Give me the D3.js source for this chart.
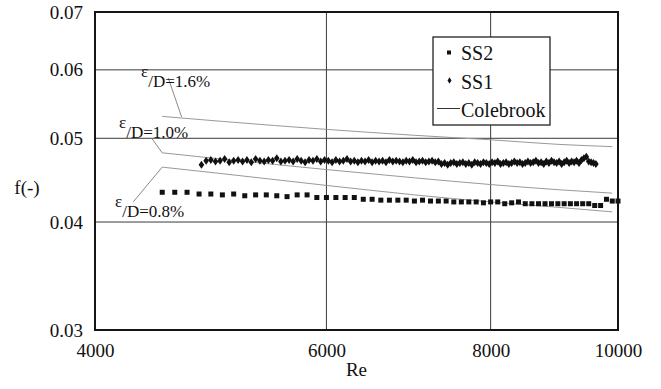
<!DOCTYPE html>
<html>
<head>
<meta charset="utf-8">
<script src="https://cdn.jsdelivr.net/npm/d3@7"></script>
<style>
  body { margin: 0; background: #fff; }
  svg text { fill: #111; }
</style>
</head>
<body>
<div id="chart"></div>
<script>
// SS2 measurements (squares)
const ss2Re = [4500, 4600, 4700, 4800, 4900, 5000, 5100, 5200, 5300, 5400,
  5500, 5600, 5700, 5800, 5900, 6000, 6100, 6200, 6300, 6400,
  6500, 6600, 6700, 6800, 6900, 7000, 7100, 7200, 7300, 7400,
  7500, 7600, 7700, 7800, 7900, 8000, 8100, 8200, 8300, 8400,
  8500, 8600, 8700, 8800, 8900, 9000, 9100, 9200, 9300, 9400,
  9500, 9600, 9700, 9800, 9900, 10000];
const ss2F = [0.0433, 0.0433, 0.0433, 0.0431, 0.0431, 0.0430, 0.0431, 0.0429, 0.0430, 0.0430,
  0.0429, 0.0428, 0.0430, 0.0430, 0.0427, 0.0427, 0.0427, 0.0427, 0.0427, 0.0425,
  0.0425, 0.0424, 0.0424, 0.0424, 0.0424, 0.0423, 0.0424, 0.0423, 0.0423, 0.0423,
  0.0422, 0.0422, 0.0422, 0.0422, 0.0421, 0.0422, 0.0422, 0.0420, 0.0421, 0.0422,
  0.0420, 0.0420, 0.0420, 0.0420, 0.0420, 0.0420, 0.0420, 0.0420, 0.0420, 0.0420,
  0.0420, 0.0418, 0.0418, 0.0425, 0.0423, 0.0423];

// SS1 measurements (diamonds)
const ss1Re = [4820, 4860, 4900, 4940, 4980, 5020, 5060, 5100, 5140, 5180,
  5220, 5260, 5300, 5340, 5380, 5420, 5460, 5500, 5540, 5580,
  5620, 5660, 5700, 5740, 5780, 5820, 5860, 5900, 5940, 5980,
  6020, 6060, 6100, 6140, 6180, 6220, 6260, 6300, 6340, 6380,
  6420, 6460, 6500, 6540, 6580, 6620, 6660, 6700, 6740, 6780,
  6820, 6860, 6900, 6940, 6980, 7020, 7060, 7100, 7140, 7180,
  7220, 7260, 7300, 7340, 7380, 7420, 7460, 7500, 7540, 7580,
  7620, 7660, 7700, 7740, 7780, 7820, 7860, 7900, 7940, 7980,
  8020, 8060, 8100, 8140, 8180, 8220, 8260, 8300, 8340, 8380,
  8420, 8460, 8500, 8540, 8580, 8620, 8660, 8700, 8740, 8780,
  8820, 8860, 8900, 8940, 8980, 9020, 9060, 9100, 9140, 9180,
  9220, 9260, 9300, 9340, 9380, 9420, 9460, 9500, 9540, 9580, 9620];
const ss1F = [0.0466, 0.0471, 0.0472, 0.0470, 0.0471, 0.0473, 0.0469, 0.0471, 0.0472, 0.0470,
  0.0472, 0.0469, 0.0473, 0.0471, 0.0470, 0.0472, 0.0471, 0.0474, 0.0470, 0.0471,
  0.0472, 0.0470, 0.0473, 0.0471, 0.0469, 0.0472, 0.0471, 0.0473, 0.0470, 0.0472,
  0.0471, 0.0469, 0.0472, 0.0470, 0.0471, 0.0473, 0.0470, 0.0471, 0.0469, 0.0471,
  0.0470, 0.0472, 0.0469, 0.0471, 0.0470, 0.0471, 0.0469, 0.0472, 0.0470, 0.0471,
  0.0470, 0.0469, 0.0471, 0.0470, 0.0472, 0.0469, 0.0470, 0.0471, 0.0469, 0.0470,
  0.0471, 0.0469, 0.0470, 0.0467, 0.0468, 0.0466, 0.0468, 0.0469, 0.0467, 0.0468,
  0.0469, 0.0467, 0.0468, 0.0466, 0.0469, 0.0468, 0.0467, 0.0469, 0.0468, 0.0467,
  0.0469, 0.0468, 0.0470, 0.0467, 0.0468, 0.0469, 0.0467, 0.0468, 0.0470, 0.0468,
  0.0469, 0.0467, 0.0468, 0.0470, 0.0468, 0.0469, 0.0471, 0.0468, 0.0469, 0.0467,
  0.0470, 0.0468, 0.0471, 0.0469, 0.0468, 0.0470, 0.0467, 0.0469, 0.0471, 0.0468,
  0.0470, 0.0469, 0.0471, 0.0468, 0.0472, 0.0474, 0.0476, 0.0470, 0.0469, 0.0468, 0.0467];

// Colebrook curves
const coleRe = [4500, 5000, 6000, 7000, 8000, 9000, 9900];
const cole16 = [0.0530, 0.0523, 0.0512, 0.0504, 0.0498, 0.0492, 0.0489];
const cole10 = [0.0481, 0.0473, 0.0460, 0.0450, 0.0442, 0.0436, 0.0432];
const cole08 = [0.0463, 0.0455, 0.0441, 0.0430, 0.0422, 0.0416, 0.0411];

const xTicks = [4000, 6000, 8000, 10000];
const yTicks = [0.03, 0.04, 0.05, 0.06, 0.07];

// roughness labels, placed in data units (Re, f)
const annoLabels = ['/D=1.6%', '/D=1.0%', '/D=0.8%'];
const annoAt = [[4336, 0.0573], [4172, 0.0500], [4143, 0.04055]];
const annoLeaders = [
  [[4548, 0.0587], [4656, 0.0529]],
  [[4418, 0.0500], [4500, 0.0481]],
  [[4277, 0.0422], [4500, 0.0463]]
];

const font = '"Liberation Serif", "Times New Roman", "Liberation Sans", sans-serif';
const width = 661, height = 389;
const margin = { left: 95, top: 12, right: 43, bottom: 59 };

const svg = d3.select('#chart').append('svg')
  .attr('width', width)
  .attr('height', height);

svg.append('rect').attr('width', width).attr('height', height).attr('fill', '#fff');

const x = d3.scaleLog().domain([4000, 10000]).range([margin.left, width - margin.right]);
const y = d3.scaleLog().domain([0.03, 0.07]).range([height - margin.bottom, margin.top]);

// grid
svg.append('g')
  .selectAll('line')
  .data(xTicks.slice(1, -1))
  .enter().append('line')
  .attr('x1', d => x(d)).attr('x2', d => x(d))
  .attr('y1', y(0.07)).attr('y2', y(0.03))
  .attr('stroke', '#3a3a3a').attr('stroke-width', 1);
svg.append('g')
  .selectAll('line')
  .data(yTicks.slice(1, -1))
  .enter().append('line')
  .attr('x1', x(4000)).attr('x2', x(10000))
  .attr('y1', d => y(d)).attr('y2', d => y(d))
  .attr('stroke', '#3a3a3a').attr('stroke-width', 1);

// colebrook lines
const line = d3.line()
  .x((d, i) => x(coleRe[i]))
  .y(d => y(d))
  .curve(d3.curveMonotoneX);
svg.append('g')
  .selectAll('path')
  .data([cole16, cole10, cole08])
  .enter().append('path')
  .attr('d', line)
  .attr('fill', 'none')
  .attr('stroke', '#999')
  .attr('stroke-width', 1);

// leaders + labels
svg.append('g')
  .selectAll('line')
  .data(annoLeaders)
  .enter().append('line')
  .attr('x1', d => x(d[0][0])).attr('y1', d => y(d[0][1]))
  .attr('x2', d => x(d[1][0])).attr('y2', d => y(d[1][1]))
  .attr('stroke', '#8a8a8a').attr('stroke-width', 1);

const labels = svg.append('g')
  .selectAll('text')
  .data(annoLabels)
  .enter().append('text')
  .attr('x', (d, i) => x(annoAt[i][0]))
  .attr('y', (d, i) => y(annoAt[i][1]))
  .attr('font-family', font)
  .attr('font-size', 17);
labels.append('tspan').attr('font-size', 17).attr('dy', -10).text('ε');
labels.append('tspan').attr('dy', 10).text(d => d);

// SS2 squares
const sq = 5;
svg.append('g')
  .selectAll('rect')
  .data(ss2F)
  .enter().append('rect')
  .attr('x', (d, i) => x(ss2Re[i]) - sq / 2)
  .attr('y', d => y(d) - sq / 2)
  .attr('width', sq).attr('height', sq)
  .attr('fill', '#111');

// SS1 diamonds
const diamond = (w, h) => `M0,${-h}L${w},0L0,${h}L${-w},0Z`;
svg.append('g')
  .selectAll('path')
  .data(ss1F)
  .enter().append('path')
  .attr('d', diamond(2.8, 4))
  .attr('transform', (d, i) => `translate(${x(ss1Re[i])},${y(d)})`)
  .attr('fill', '#111');

// frame
svg.append('rect')
  .attr('x', x(4000)).attr('y', y(0.07))
  .attr('width', x(10000) - x(4000))
  .attr('height', y(0.03) - y(0.07))
  .attr('fill', 'none')
  .attr('stroke', '#151515')
  .attr('stroke-width', 2);

// axes
svg.append('g')
  .attr('transform', `translate(0,${y(0.03)})`)
  .call(d3.axisBottom(x).tickValues(xTicks).tickFormat(d3.format('d')).tickSize(0).tickPadding(13.5))
  .call(g => g.attr('font-family', font))
  .call(g => g.select('.domain').remove())
  .call(g => g.selectAll('.tick text').attr('font-size', 19).attr('fill', '#111'));

svg.append('g')
  .attr('transform', `translate(${x(4000)},0)`)
  .call(d3.axisLeft(y).tickValues(yTicks).tickFormat(d3.format('.2f')).tickSize(0).tickPadding(12))
  .call(g => g.attr('font-family', font))
  .call(g => g.select('.domain').remove())
  .call(g => g.selectAll('.tick text').attr('font-size', 19).attr('fill', '#111'));

svg.append('text')
  .attr('x', (x(4000) + x(10000)) / 2)
  .attr('y', 376)
  .attr('text-anchor', 'middle')
  .attr('font-family', font)
  .attr('font-size', 19)
  .text('Re');

svg.append('text')
  .attr('x', 27)
  .attr('y', 194)
  .attr('text-anchor', 'middle')
  .attr('font-family', font)
  .attr('font-size', 19)
  .text('f(-)');

// legend
const lg = svg.append('g').attr('transform', 'translate(433,37)');
lg.append('rect')
  .attr('width', 117).attr('height', 88)
  .attr('fill', '#fff')
  .attr('stroke', '#222').attr('stroke-width', 1.3);
lg.append('rect').attr('x', 14).attr('y', 13.5).attr('width', 4).attr('height', 4).attr('fill', '#111');
lg.append('path').attr('d', diamond(2, 3.3)).attr('transform', 'translate(16.5,43.5)').attr('fill', '#111');
lg.append('line').attr('x1', 4).attr('x2', 27).attr('y1', 71.5).attr('y2', 71.5)
  .attr('stroke', '#333').attr('stroke-width', 1);
const legendNames = ['SS2', 'SS1', 'Colebrook'];
lg.selectAll('text.lgt')
  .data(legendNames)
  .enter().append('text')
  .attr('class', 'lgt')
  .attr('x', 28)
  .attr('y', (d, i) => 23 + i * 28.5)
  .attr('font-family', font)
  .attr('font-size', 20)
  .text(d => d);
</script>
</body>
</html>
